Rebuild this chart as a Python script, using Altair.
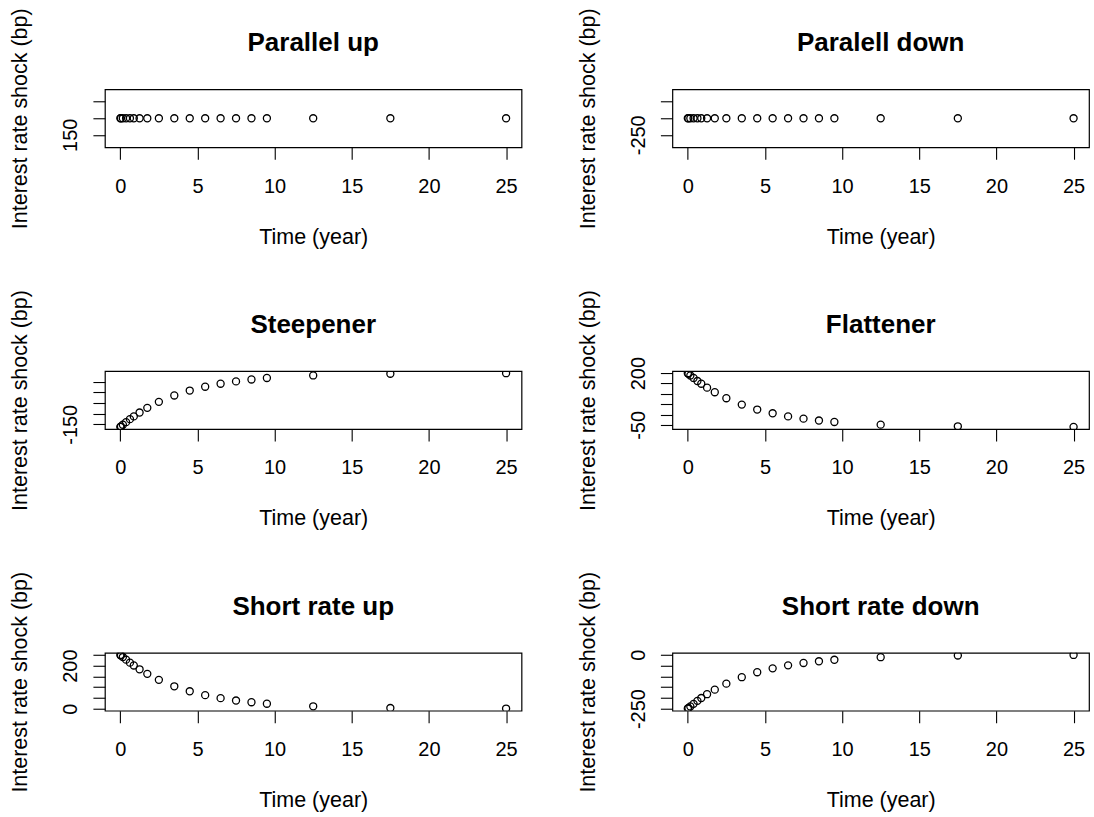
import altair as alt
import pandas as pd

# Basel IRRBB time-bucket midpoints (years)
times = [0.0028, 0.0417, 0.1667, 0.375, 0.625, 0.875, 1.25, 1.75, 2.5, 3.5,
         4.5, 5.5, 6.5, 7.5, 8.5, 9.5, 12.5, 17.5, 25]

parallel_up = [150, 150, 150, 150, 150, 150, 150, 150, 150, 150,
               150, 150, 150, 150, 150, 150, 150, 150, 150]
parallel_down = [-250, -250, -250, -250, -250, -250, -250, -250, -250, -250,
                 -250, -250, -250, -250, -250, -250, -250, -250, -250]
steepener = [-162, -160, -152, -140, -126, -113, -95, -73, -45, -15,
             8, 26, 40, 51, 60, 67, 79, 87, 89.5]
flattener = [200, 197, 189, 177, 162, 149, 130, 108, 79, 48,
             24, 6, -9, -20, -29, -36, -49, -57, -59.5]
short_up = [250, 247, 240, 228, 214, 201, 183, 162, 134, 104,
            81, 63, 49, 38, 30, 23, 11, 3, 0.5]
short_down = [-250, -247, -240, -228, -214, -201, -183, -162, -134, -104,
              -81, -63, -49, -38, -30, -23, -11, -3, -0.5]

titles = ["Parallel up", "Paralell down", "Steepener", "Flattener",
          "Short rate up", "Short rate down"]

x_ticks = [0, 5, 10, 15, 20, 25]

# y tick values and the labels R managed to draw (others dropped for overlap)
eps = 0.000001
yticks = [
    [150 - eps, 150, 150 + eps],
    [-250 - eps, -250, -250 + eps],
    [-150, -100, -50, 0, 50],
    [-50, 0, 50, 100, 150, 200],
    [0, 50, 100, 150, 200, 250],
    [-250, -200, -150, -100, -50, 0],
]
ylabels = [
    ["150", "", ""],
    ["-250", "", ""],
    ["-150", "", "", "", ""],
    ["-50", "", "", "", "", "200"],
    ["0", "", "", "", "200", ""],
    ["-250", "", "", "", "", "0"],
]
series = [parallel_up, parallel_down, steepener, flattener, short_up, short_down]

W, H = 417, 58
FONT = "Liberation Sans"


def rng(vals, ext=0.04):
    lo, hi = min(vals), max(vals)
    p = (hi - lo) * ext
    return [lo - p, hi + p]


def label_expr(ticks, labels):
    step = min(b - a for a, b in zip(ticks[:-1], ticks[1:]))
    tol = step / 10.0
    expr = "''"
    for t, l in zip(ticks, labels):
        if l:
            expr = f"abs(datum.value - ({t:.9f})) < {tol:.9f} ? '{l}' : " + expr
    return expr


def panel(i):
    df = pd.DataFrame({"t": times, "v": series[i]})
    ticks = yticks[i]
    if i < 2:
        step = ticks[1] - ticks[0]
        c = ticks[1]
        ydom = [c - 1.756 * step, c + 1.756 * step]
    else:
        ydom = rng(series[i])
    xdom = rng(times)
    pts = alt.Chart(df).mark_point(
        shape="circle", filled=False, color="black", size=50,
        strokeWidth=1.3, opacity=1, clip=True,
    ).encode(
        x=alt.X("t:Q",
                scale=alt.Scale(domain=xdom, nice=False, zero=False),
                axis=alt.Axis(values=x_ticks, title="Time (year)",
                              labelPadding=17, titleY=96,
                              titleBaseline="alphabetic")),
        y=alt.Y("v:Q",
                scale=alt.Scale(domain=ydom, nice=False, zero=False),
                axis=alt.Axis(values=ticks, labelExpr=label_expr(ticks, ylabels[i]),
                              title="Interest rate shock (bp)",
                              labelAngle=270, labelAlign="center",
                              labelBaseline="alphabetic", labelPadding=16,
                              titleAngle=270, titleX=-78, titleY=H / 2,
                              titleAlign="center", titleBaseline="alphabetic")),
    )
    ttl = alt.Chart(pd.DataFrame({"label": [titles[i]]})).mark_text(
        font=FONT, fontSize=26, fontWeight="bold", color="black",
        align="center", baseline="alphabetic",
    ).encode(x=alt.value(W / 2), y=alt.value(-38), text="label:N")
    return alt.layer(pts, ttl).properties(width=W, height=H)


chart = alt.concat(
    *[panel(i) for i in range(6)],
    columns=2, bounds="flush", spacing={"row": 224, "column": 151},
).properties(
    padding={"left": 9, "top": 6, "right": 4, "bottom": 2},
    background="white",
).configure_view(
    stroke="black", strokeWidth=1.2
).configure_axis(
    domain=False, grid=False, ticks=True, tickColor="black", tickSize=12,
    tickWidth=1.1, labelColor="black", labelFont=FONT, labelFontSize=20,
    titleColor="black", titleFont=FONT, titleFontSize=21.5,
    titleFontWeight="normal", labelOverlap=False, labelFlush=False,
)

chart.save("out.html", embed_options={"renderer": "svg", "actions": False})
